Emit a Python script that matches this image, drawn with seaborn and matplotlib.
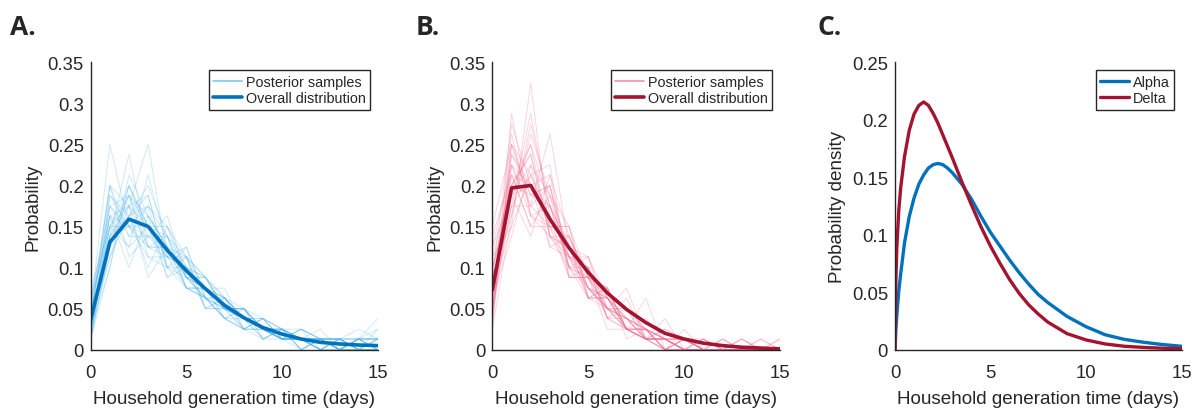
import numpy as np
import pandas as pd
import matplotlib
matplotlib.use("Agg")
import matplotlib.pyplot as plt
from matplotlib.lines import Line2D
import seaborn as sns

# ---------------- data ----------------
days = list(range(16))

overall_alpha = [0.037, 0.131, 0.159, 0.150, 0.121, 0.096, 0.074, 0.054,
                 0.039, 0.027, 0.019, 0.013, 0.009, 0.007, 0.0057, 0.005]
overall_delta = [0.073, 0.197, 0.200, 0.159, 0.124, 0.094, 0.069, 0.049,
                 0.033, 0.020, 0.013, 0.008, 0.005, 0.003, 0.002, 0.001]

samples_alpha = [
    [0.025,0.15,0.175,0.125,0.138,0.088,0.075,0.05,0.05,0.025,0.025,0.013,0.013,0,0.013,0],
    [0.05,0.2,0.138,0.175,0.1,0.113,0.063,0.038,0.025,0.038,0.013,0.025,0,0.013,0,0.013],
    [0.013,0.125,0.188,0.15,0.113,0.1,0.088,0.063,0.038,0.025,0.025,0,0.013,0.013,0,0],
    [0.038,0.188,0.15,0.163,0.125,0.075,0.063,0.05,0.05,0.013,0.013,0.013,0.025,0,0.013,0.013],
    [0.025,0.1,0.2,0.138,0.125,0.1,0.075,0.063,0.025,0.025,0.025,0.013,0,0,0.013,0],
    [0.063,0.138,0.163,0.188,0.1,0.088,0.063,0.05,0.038,0.025,0.013,0.025,0.013,0.013,0,0.025],
    [0.013,0.163,0.125,0.15,0.15,0.113,0.075,0.038,0.05,0.038,0.025,0,0.013,0,0.013,0],
    [0.05,0.25,0.15,0.113,0.113,0.1,0.05,0.063,0.038,0.025,0.013,0.013,0.013,0.013,0.013,0.013],
    [0.025,0.138,0.238,0.125,0.125,0.088,0.088,0.05,0.025,0.025,0.013,0.013,0,0.013,0,0],
    [0.038,0.113,0.175,0.25,0.113,0.075,0.063,0.063,0.038,0.013,0.025,0.013,0.013,0,0.013,0],
    [0.075,0.15,0.15,0.138,0.163,0.088,0.075,0.05,0.05,0.025,0.013,0.013,0,0.013,0,0.013],
    [0.025,0.175,0.188,0.113,0.1,0.125,0.063,0.038,0.025,0.038,0.025,0.013,0.013,0,0,0],
    [0.013,0.125,0.163,0.2,0.138,0.075,0.075,0.05,0.038,0.025,0.013,0.013,0.013,0.013,0.013,0.013],
    [0.05,0.163,0.1,0.163,0.125,0.113,0.088,0.063,0.05,0.013,0.025,0.013,0,0,0.013,0],
    [0.038,0.2,0.175,0.15,0.088,0.1,0.05,0.05,0.038,0.038,0.013,0.025,0.013,0,0,0.013],
    [0.025,0.138,0.15,0.175,0.15,0.088,0.063,0.038,0.05,0.025,0.025,0,0.013,0.013,0,0],
    [0.063,0.15,0.188,0.125,0.113,0.1,0.075,0.075,0.025,0.025,0.013,0.013,0.013,0,0.013,0.025],
    [0.013,0.1,0.213,0.163,0.125,0.088,0.088,0.05,0.038,0.025,0.013,0.013,0,0.013,0,0],
    [0.038,0.175,0.138,0.138,0.138,0.113,0.05,0.063,0.038,0.038,0.025,0.013,0.013,0,0.013,0.013],
    [0.025,0.163,0.175,0.188,0.1,0.075,0.075,0.05,0.05,0.025,0.013,0.013,0.013,0.013,0,0],
    [0.05,0.125,0.2,0.15,0.113,0.125,0.063,0.038,0.025,0.013,0.025,0.013,0,0,0.013,0.013],
    [0.013,0.188,0.163,0.1,0.15,0.1,0.088,0.05,0.038,0.025,0.013,0.025,0.013,0.013,0,0],
    [0.038,0.15,0.125,0.213,0.125,0.075,0.075,0.063,0.025,0.038,0.013,0,0.013,0,0.013,0.038],
    [0.025,0.138,0.188,0.163,0.088,0.113,0.05,0.05,0.05,0.025,0.025,0.013,0,0.013,0,0],
    [0.063,0.175,0.15,0.125,0.125,0.088,0.063,0.063,0.038,0.025,0.013,0.013,0.013,0.013,0.013,0.013],
    [0.025,0.113,0.163,0.175,0.138,0.1,0.075,0.038,0.038,0.013,0.025,0.025,0.013,0,0,0],
    [0.038,0.2,0.113,0.138,0.113,0.113,0.088,0.05,0.025,0.038,0.013,0.013,0,0.013,0.025,0.013],
    [0.013,0.15,0.2,0.15,0.138,0.075,0.063,0.05,0.05,0.025,0.013,0.013,0.013,0,0,0],
    [0.05,0.163,0.15,0.15,0.1,0.1,0.075,0.063,0.038,0.025,0.025,0,0.013,0.013,0.013,0],
    [0.025,0.138,0.175,0.088,0.125,0.088,0.075,0.05,0.038,0.025,0.013,0.013,0.013,0,0,0.013],
]

samples_delta = [
    [0.05,0.225,0.2,0.15,0.113,0.1,0.063,0.05,0.025,0.013,0.013,0,0,0,0,0],
    [0.1,0.188,0.25,0.175,0.125,0.075,0.05,0.025,0.013,0.013,0,0,0.013,0,0,0],
    [0.025,0.288,0.163,0.138,0.138,0.088,0.075,0.025,0.025,0,0.013,0,0,0,0,0],
    [0.075,0.15,0.325,0.138,0.1,0.088,0.05,0.038,0.013,0,0,0.013,0,0,0,0],
    [0.113,0.2,0.188,0.2,0.113,0.063,0.063,0.025,0.025,0.013,0,0,0,0,0,0],
    [0.05,0.25,0.213,0.163,0.088,0.1,0.038,0.05,0.013,0,0.013,0,0,0,0,0],
    [0.063,0.175,0.175,0.263,0.125,0.075,0.05,0.025,0.038,0.013,0,0,0,0.013,0,0],
    [0.138,0.213,0.15,0.15,0.138,0.088,0.063,0.025,0.013,0.013,0.013,0,0,0,0,0],
    [0.025,0.163,0.263,0.188,0.1,0.113,0.05,0.038,0.025,0,0,0.013,0,0,0,0],
    [0.088,0.275,0.2,0.125,0.113,0.075,0.063,0.025,0.013,0.013,0,0,0,0,0.013,0],
    [0.063,0.138,0.225,0.188,0.15,0.088,0.038,0.063,0.013,0.013,0.013,0,0,0,0,0],
    [0.1,0.2,0.238,0.138,0.125,0.063,0.075,0.025,0.025,0,0,0,0.013,0,0,0],
    [0.038,0.238,0.188,0.175,0.1,0.1,0.05,0.038,0.013,0.038,0,0,0,0,0,0],
    [0.075,0.188,0.138,0.213,0.138,0.075,0.063,0.038,0.025,0.013,0.013,0.013,0,0,0,0],
    [0.15,0.25,0.175,0.15,0.088,0.088,0.025,0.025,0.013,0.013,0,0,0,0,0,0],
    [0.05,0.175,0.288,0.163,0.113,0.075,0.063,0.038,0.013,0,0.013,0,0,0,0,0],
    [0.088,0.213,0.2,0.175,0.113,0.1,0.038,0.025,0.025,0.013,0,0,0,0.013,0,0],
    [0.063,0.263,0.163,0.15,0.15,0.063,0.075,0.013,0.025,0,0.013,0,0,0,0,0.013],
    [0.113,0.15,0.213,0.225,0.088,0.088,0.05,0.05,0.013,0.013,0,0,0,0,0,0],
    [0.038,0.2,0.25,0.138,0.125,0.113,0.038,0.025,0.063,0,0,0.013,0,0,0,0],
    [0.075,0.225,0.175,0.2,0.1,0.063,0.063,0.038,0.013,0.025,0.013,0,0,0,0,0],
    [0.125,0.188,0.225,0.125,0.138,0.075,0.05,0.025,0.025,0,0,0,0.013,0,0,0],
    [0.05,0.238,0.2,0.163,0.113,0.088,0.075,0.025,0.013,0.013,0.013,0,0,0,0,0],
    [0.088,0.163,0.275,0.175,0.1,0.075,0.05,0.075,0.013,0.013,0,0,0,0,0,0],
    [0.063,0.213,0.15,0.188,0.125,0.1,0.038,0.038,0.025,0,0.025,0,0,0,0.013,0],
    [0.1,0.175,0.213,0.15,0.15,0.063,0.063,0.025,0.013,0.013,0,0.013,0,0,0,0],
    [0.038,0.25,0.188,0.2,0.088,0.088,0.05,0.038,0.025,0.013,0,0,0,0,0,0],
    [0.075,0.2,0.238,0.138,0.113,0.113,0.063,0.025,0.013,0,0.013,0,0,0.013,0,0],
    [0.125,0.225,0.163,0.175,0.125,0.063,0.05,0.05,0.025,0.013,0,0,0,0,0,0],
    [0.05,0.188,0.2,0.213,0.1,0.088,0.075,0.025,0.013,0.025,0.013,0,0,0,0,0.013],
]

density_t = [0, 0.05, 0.1, 0.2, 0.3, 0.5, 0.75, 1, 1.25, 1.5, 1.75, 2, 2.25, 2.5,
             2.75, 3, 3.5, 4, 4.5, 5, 5.5, 6, 6.5, 7, 7.5, 8, 9, 10, 11, 12, 13, 14, 15]
density_alpha = [0, 0.018, 0.031, 0.051, 0.066, 0.093, 0.116, 0.132, 0.144, 0.152,
                 0.158, 0.161, 0.162, 0.161, 0.158, 0.154, 0.144, 0.131, 0.116, 0.102,
                 0.090, 0.078, 0.067, 0.057, 0.048, 0.041, 0.029, 0.020, 0.013, 0.009,
                 0.0065, 0.0045, 0.003]
density_delta = [0, 0.062, 0.090, 0.121, 0.141, 0.168, 0.191, 0.205, 0.2125, 0.2155,
                 0.2125, 0.2055, 0.197, 0.187, 0.177, 0.167, 0.146, 0.126, 0.107, 0.090,
                 0.075, 0.061, 0.049, 0.039, 0.031, 0.024, 0.014, 0.0085, 0.005, 0.003,
                 0.002, 0.0013, 0.001]

panel_letters = ["A.", "B.", "C."]
xlabel_text = "Household generation time (days)"
ylabel_ab = "Probability"
ylabel_c = "Probability density"
legend_ab = ["Posterior samples", "Overall distribution"]
legend_c = ["Alpha", "Delta"]
yticks_ab = [0, 0.05, 0.1, 0.15, 0.2, 0.25, 0.3, 0.35]
yticklabels_ab = ["0", "0.05", "0.1", "0.15", "0.2", "0.25", "0.3", "0.35"]
yticks_c = [0, 0.05, 0.1, 0.15, 0.2, 0.25]
yticklabels_c = ["0", "0.05", "0.1", "0.15", "0.2", "0.25"]
xticks = [0, 5, 10, 15]

# ---------------- style ----------------
sns.set_style("white")
plt.rcParams["font.family"] = ["Liberation Sans", "DejaVu Sans"]
plt.rcParams["axes.linewidth"] = 1.0

BLUE = "#0072BD"
LBLUE = "#4FB3E8"
RED = "#A2142F"
PINK = "#F2668E"
AXC = "#262626"

fig = plt.figure(figsize=(12, 4.1), dpi=100)
axA = fig.add_axes([0.0756, 0.1446, 0.2392, 0.701])
axB = fig.add_axes([0.4103, 0.1446, 0.2398, 0.701])
axC = fig.add_axes([0.7458, 0.1446, 0.2389, 0.701])


def long_df(samples):
    rows = []
    for i, s in enumerate(samples):
        for d, v in zip(days, s):
            rows.append((i, d, v))
    return pd.DataFrame(rows, columns=["sample", "day", "p"])


def style_axes(ax, yt, ytl, ylim, ylab):
    ax.set_xlim(0, 15)
    ax.set_ylim(*ylim)
    ax.set_xticks(xticks)
    ax.set_xticklabels([str(x) for x in xticks])
    ax.set_yticks(yt)
    ax.set_yticklabels(ytl)
    for s in ["top", "right"]:
        ax.spines[s].set_visible(False)
    for s in ["left", "bottom"]:
        ax.spines[s].set_color(AXC)
        ax.spines[s].set_linewidth(1.0)
    ax.tick_params(direction="in", length=4, width=1, color=AXC,
                   labelsize=13.3, labelcolor="#262626")
    ax.tick_params(axis="y", pad=5)
    ax.tick_params(axis="x", pad=10)
    ax.set_xlabel(xlabel_text, fontsize=13.6, color="#262626", labelpad=7)
    ax.set_ylabel(ylab, fontsize=13.6, color="#262626", labelpad=4)


def add_legend(ax, handles, labels):
    leg = ax.legend(handles, labels, loc="upper right", bbox_to_anchor=(1.0, 1.0),
                    borderaxespad=0.55, fontsize=10.4, frameon=True, fancybox=False,
                    framealpha=1, edgecolor=AXC, handlelength=2.0,
                    handletextpad=0.25, borderpad=0.3, labelspacing=0.2)
    leg.get_frame().set_linewidth(1.0)


for ax, samples, overall, scol, ocol, hcol in [
        (axA, samples_alpha, overall_alpha, LBLUE, BLUE, "#7CC8EE"),
        (axB, samples_delta, overall_delta, PINK, RED, "#F48FB1")]:
    df = long_df(samples)
    sns.lineplot(data=df, x="day", y="p", units="sample", estimator=None,
                 color=scol, lw=0.7, alpha=0.28, ax=ax, legend=False)
    sns.lineplot(x=days, y=overall, color=ocol, lw=2.6, ax=ax, legend=False)
    style_axes(ax, yticks_ab, yticklabels_ab, (0, 0.35), ylabel_ab)
    handles = [Line2D([], [], color=hcol, lw=1.2), Line2D([], [], color=ocol, lw=2.6)]
    add_legend(ax, handles, legend_ab)

sns.lineplot(x=density_t, y=density_alpha, color=BLUE, lw=2.4, ax=axC, legend=False)
sns.lineplot(x=density_t, y=density_delta, color=RED, lw=2.4, ax=axC, legend=False)
style_axes(axC, yticks_c, yticklabels_c, (0, 0.25), ylabel_c)
add_legend(axC, [Line2D([], [], color=BLUE, lw=2.4), Line2D([], [], color=RED, lw=2.4)],
           legend_c)

for xpos, letter in zip([0.008, 0.346, 0.681], panel_letters):
    fig.text(xpos, 0.965, letter, fontsize=19, fontweight="bold",
             family=["Open Sans", "DejaVu Sans"], va="top", ha="left")

fig.savefig("out.png", dpi=100)
